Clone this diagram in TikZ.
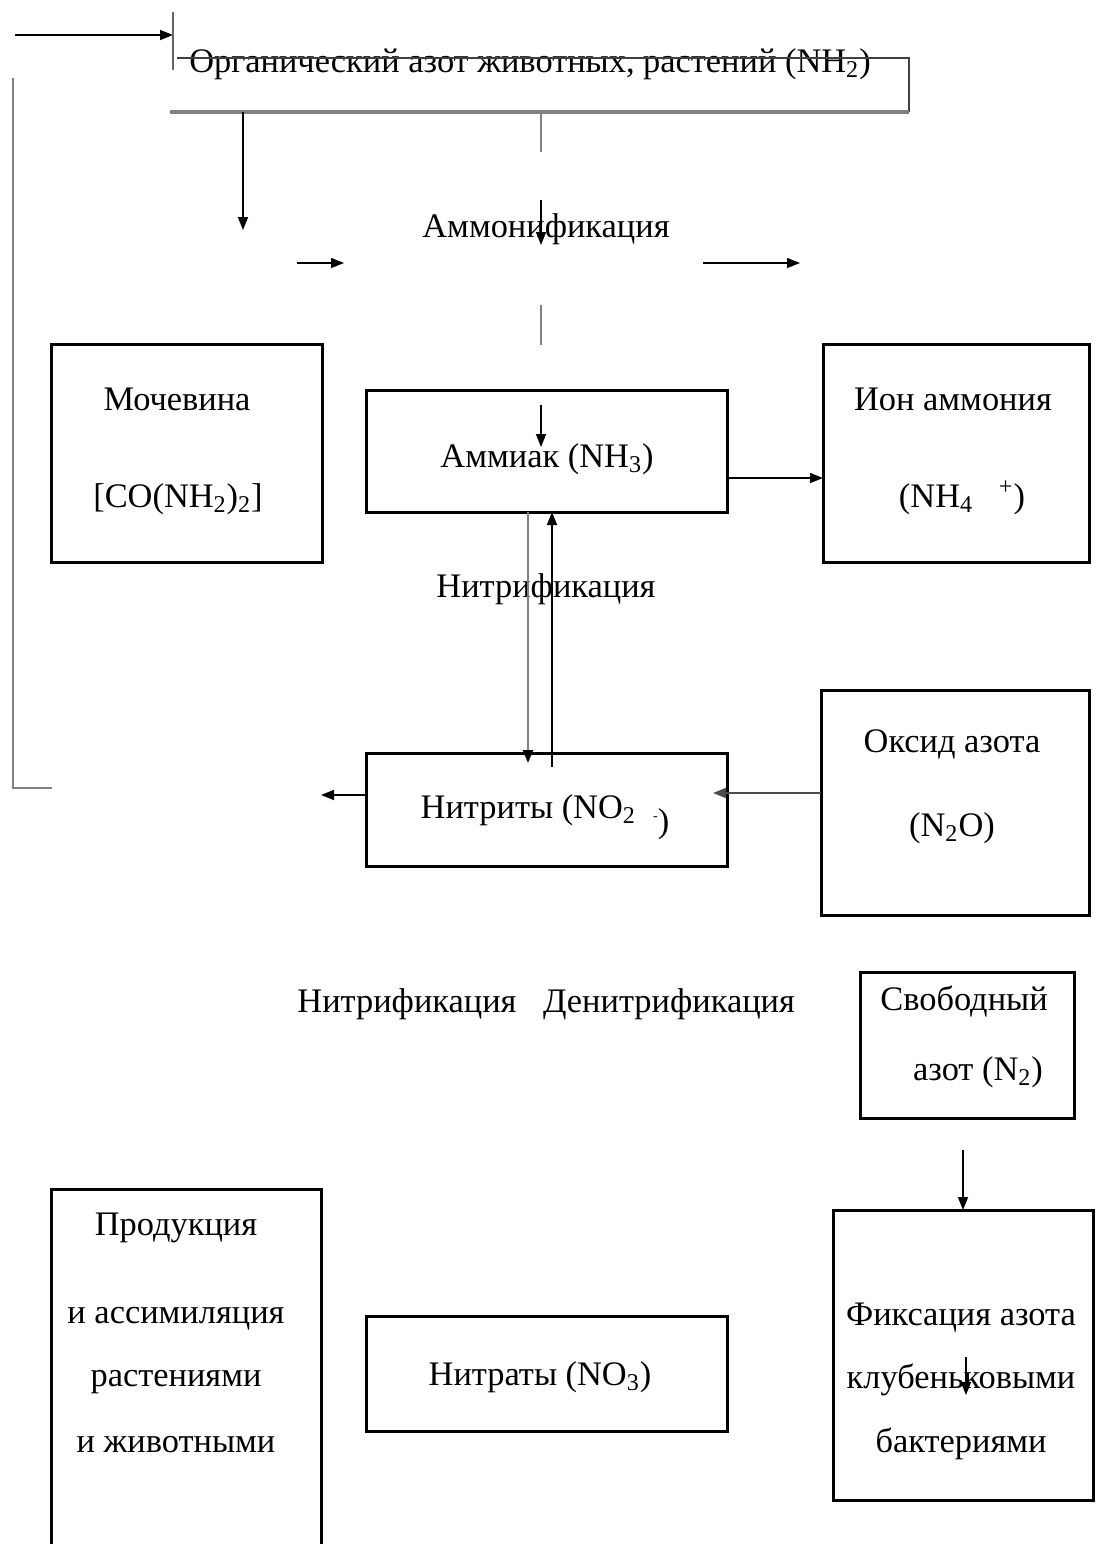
\documentclass[tikz,border=0pt]{standalone}
\usepackage{fontspec}
\setmainfont{Liberation Serif}
\usetikzlibrary{arrows.meta}

\begin{document}
\begin{tikzpicture}[x=0.5pt,y=-0.5pt,
  box/.style={draw, line width=1.5pt, inner sep=0pt, outer sep=0pt},
  txt/.style={inner sep=0pt, anchor=base, font=\fontsize{17.2}{20}\selectfont},
  arr/.style={-{Triangle[length=6.5pt,width=5pt]}, line width=0.8pt},
  gline/.style={draw=black!50, line width=1.2pt},
  garr/.style={gline, -{Triangle[length=6.5pt,width=5pt,color=black]}}]
\useasboundingbox (0,0) rectangle (1096,1544);

\node[txt] (org) at (530,72) {Органический азот животных, растений (NH\textsubscript{2})};
\node[txt] (ammon) at (546,237) {Аммонификация};
\node[txt] (nitrA) at (546,597) {Нитрификация};
\node[txt] (nitrB) at (407,1012) {Нитрификация};
\node[txt] (denitr) at (669,1012) {Денитрификация};

\node[box, minimum width=135.5pt, minimum height=109pt] (moch) at (186.5,453) {};
\node[txt] (mochA) at (177,410) {Мочевина};
\node[txt] (mochB) at (178,507) {[CO(NH\textsubscript{2})\textsubscript{2}]};

\node[box, minimum width=180.5pt, minimum height=61pt] (ammiak) at (546.5,451) {};
\node[txt] (ammiakA) at (547,467) {Аммиак (NH\textsubscript{3})};

\node[box, minimum width=133pt, minimum height=109pt] (ion) at (956,453) {};
\node[txt] (ionA) at (953,410) {Ион аммония};
\node[txt] (ionB) at (962,507) {(NH\textsubscript{4}\hspace{0.75em}\textsuperscript{+})};

\node[box, minimum width=180.5pt, minimum height=56.5pt] (nitrit) at (546.5,809.5) {};
\node[txt] (nitritA) at (545,818) {Нитриты (NO\textsubscript{2}\hspace{0.5em}\raisebox{-1pt}{\scriptsize -}\raisebox{-7pt}{)}};

\node[box, minimum width=134pt, minimum height=112.5pt] (oksid) at (955,802.5) {};
\node[txt] (oksidA) at (952,752) {Оксид азота};
\node[txt] (oksidB) at (952,836) {(N\textsubscript{2}O)};

\node[box, minimum width=107pt, minimum height=73pt] (svob) at (967,1045) {};
\node[txt] (svobA) at (964,1010) {Свободный};
\node[txt] (svobB) at (978,1080) {азот (N\textsubscript{2})};

\node[box, minimum width=130pt, minimum height=145pt] (fiks) at (963,1355) {};
\node[txt] (fiksA) at (961,1325) {Фиксация азота};
\node[txt] (fiksB) at (961,1388) {клубеньковыми};
\node[txt] (fiksC) at (961,1452) {бактериями};

\node[box, minimum width=180.5pt, minimum height=57.5pt] (nitrat) at (546.5,1373.5) {};
\node[txt] (nitratA) at (540,1385) {Нитраты (NO\textsubscript{3})};

\draw[line width=1.5pt] (51,1544) -- (51,1189) -- (321,1189) -- (321,1544);
\node[txt] (prodA) at (176,1235) {Продукция};
\node[txt] (prodB) at (176,1323) {и ассимиляция};
\node[txt] (prodC) at (176,1386) {растениями};
\node[txt] (prodD) at (176,1452) {и животными};

% organic nitrogen frame
\coordinate (inflow) at (15,35);
\coordinate (tickT) at (173,12);
\coordinate (tickB) at (173,70);
\coordinate (frTL) at (177,58);
\coordinate (frTR) at (909,58);
\coordinate (frBL) at (170,112);
\coordinate (frBR) at (909,112);
\draw[arr] (inflow) -- (inflow -| tickT);
\draw[draw=black!60, line width=0.8pt] (tickT) -- (tickB);
\draw[draw=black!75, line width=0.8pt] (frTL) -- (frTR) -- (frBR);
\draw[draw=black!50, line width=1.6pt] (frBL) -- (frBR);

% ammonification
\coordinate (leftA) at (243,112);
\coordinate (leftB) at (243,230);
\draw[arr] (leftA) -- (leftB);
\coordinate (smallA) at (297,263);
\coordinate (smallB) at (344,263);
\draw[arr] (smallA) -- (smallB);
\coordinate (rightA) at (703,263);
\coordinate (rightB) at (800,263);
\draw[arr] (rightA) -- (rightB);
\coordinate (midA) at (541,112);
\draw[gline] (midA) -- ++(0,40);
\draw[arr] (541,200) -- (541,245);
\draw[gline] (541,305) -- (541,345);
\draw[arr] (541,405) -- (541,447);

\draw[arr] ([yshift=-13.5pt]ammiak.east) -- ([yshift=-13.5pt]ammiak.east -| ion.west);
\draw[garr] (ammiak.south -| 528,0) -- (528,763);
\draw[arr] (552,767) -- (ammiak.south -| 552,0);

% nitrites
\draw[draw=black!70, arr] ([yshift=4.75pt]oksid.west) -- ([yshift=4.75pt]oksid.west -| 713,0);
\draw[arr] ([yshift=7.25pt]nitrit.west) -- ++(-45,0);
\coordinate (loopT) at (13,78);
\coordinate (loopB) at (13,788);
\draw[gline] (loopT) -- (loopB) -- ++(39,0);

% free nitrogen
\draw[arr] (963,1150) -- (fiks.north -| 963,0);
\draw[arr] (966,1357) -- (966,1395);
\end{tikzpicture}
\end{document}
